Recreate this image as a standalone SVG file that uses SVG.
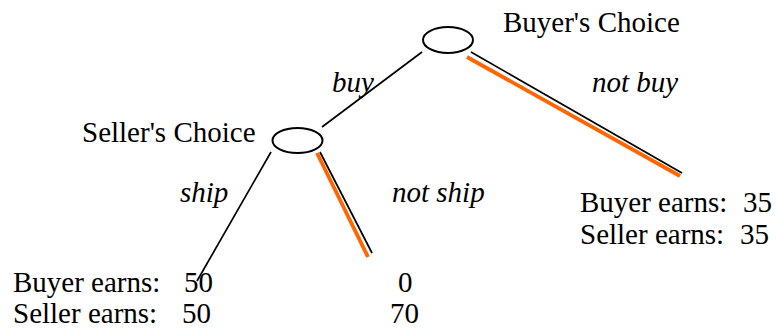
<svg xmlns="http://www.w3.org/2000/svg" width="776" height="334" viewBox="0 0 776 334">
<style>
text{font-family:"Liberation Serif","Times New Roman",serif;font-size:29px;fill:#000}
.it{font-style:italic}
.node{fill:#fff;stroke:#000;stroke-width:2}
.edge{stroke:#000;stroke-width:1.7;fill:none}
.hl{stroke:#ff6600;stroke-width:3.8;fill:none}
</style>
<rect width="776" height="334" fill="#fff"/>
<g id="connectors">
<line class="edge" x1="422" y1="52" x2="322" y2="127"/>
<line class="hl" x1="467" y1="57" x2="680" y2="176"/>
<line class="edge" x1="471" y1="52" x2="682" y2="173"/>
<line class="edge" x1="271" y1="152" x2="197" y2="281"/>
<line class="hl" x1="317" y1="153" x2="368" y2="257"/>
<line class="edge" x1="320" y1="152" x2="372" y2="253"/>
<text class="it" x="332" y="92">buy</text>
<text class="it" x="592" y="92">not buy</text>
<text class="it" x="180" y="202">ship</text>
<text class="it" x="392" y="202">not ship</text>
</g>
<g id="buyer-choice">
<ellipse class="node" cx="448" cy="40" rx="25" ry="13"/>
<text x="503" y="32">Buyer's Choice</text>
</g>
<g id="seller-choice">
<ellipse class="node" cx="297.5" cy="140.5" rx="25" ry="12.5"/>
<text x="82" y="142">Seller's Choice</text>
</g>
<g id="outcome-not-buy">
<text x="580" y="212">Buyer earns:<tspan x="743">35</tspan></text>
<text x="580" y="244">Seller earns:<tspan x="740">35</tspan></text>
</g>
<g id="outcome-ship">
<text x="13" y="292">Buyer earns:<tspan x="184">50</tspan></text>
<text x="13" y="323">Seller earns:<tspan x="182">50</tspan></text>
</g>
<g id="outcome-not-ship">
<text x="398" y="292">0</text>
<text x="390" y="323">70</text>
</g>
</svg>
